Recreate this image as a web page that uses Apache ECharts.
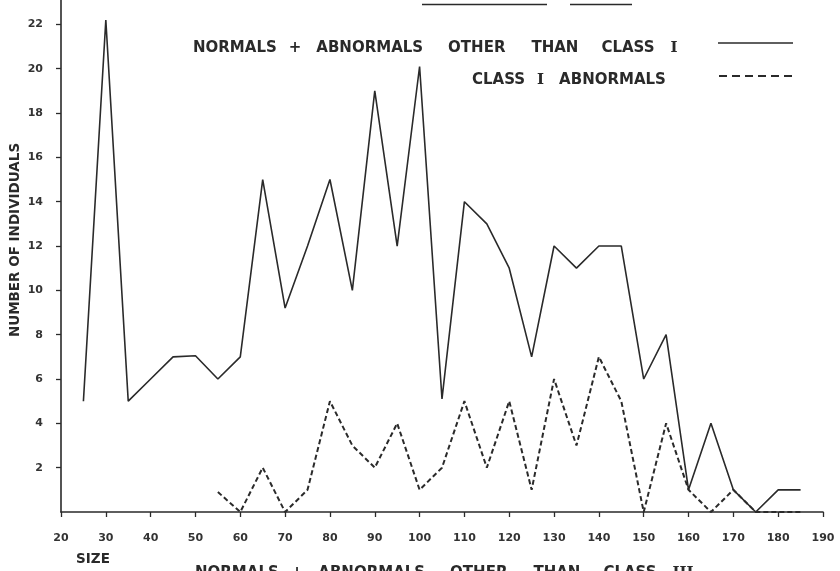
<!DOCTYPE html>
<html>
<head>
<meta charset="utf-8">
<script src="https://cdn.jsdelivr.net/npm/echarts@6/dist/echarts.min.js"></script>
<style>
  html, body { margin: 0; padding: 0; background: #ffffff; }
  #chart { width: 840px; height: 571px; }
</style>
</head>
<body>
<div id="chart"></div>
<script>
// Size classes (x) and counts of individuals (y)
const sizesAll = [25, 30, 35, 40, 45, 50, 55, 60, 65, 70, 75, 80, 85, 90, 95, 100, 105,
                  110, 115, 120, 125, 130, 135, 140, 145, 150, 155, 160, 165, 170, 175, 180, 185];
const normalsOther = [5, 22.2, 5, 6, 7, 7.05, 6, 7, 15, 9.2, 12, 15, 10, 19, 12, 20.1, 5.1,
                      14, 13, 11, 7, 12, 11, 12, 12, 6, 8, 1, 4, 1, 0, 1, 1];

const sizesClassI = [55, 60, 65, 70, 75, 80, 85, 90, 95, 100, 105, 110, 115, 120, 125,
                     130, 135, 140, 145, 150, 155, 160, 165, 170, 175, 180, 185];
const classIAbnormals = [0.9, 0, 2, 0, 1, 5, 3, 2, 4, 1, 2, 5, 2, 5, 1,
                         6, 3, 7, 5, 0, 4, 1, 0, 1, 0, 0, 0];

const yTickValues = [2, 4, 6, 8, 10, 12, 14, 16, 18, 20, 22];

const NAME_A = 'NORMALS + ABNORMALS OTHER THAN CLASS I';
const NAME_B = 'CLASS I ABNORMALS';
const CAPTION = 'NORMALS + ABNORMALS OTHER THAN CLASS III';

const INK = '#2a2a2a';
const FONT = 'DejaVu Sans';
const LETTER_SIZE = 15;

const SOLID_STYLE = { color: INK, width: 1.6 };
const DASH_STYLE = { color: INK, width: 2, type: [5, 3] };

function pairs(xs, ys) {
  return xs.map((x, i) => [x, ys[i]]);
}

// Lettering with wide word spacing; roman numerals set in a serif face.
function lettering(text, gaps) {
  const words = text.split(' ');
  const rich = {
    r: { fontFamily: 'DejaVu Serif', fontWeight: 'bold', fontSize: LETTER_SIZE, fill: INK }
  };
  let out = '';
  words.forEach((w, i) => {
    out += /^I+$/.test(w) ? '{r|' + w + '}' : w;
    if (i < words.length - 1) {
      const key = 'g' + i;
      rich[key] = { width: gaps[i], fontSize: LETTER_SIZE };
      out += '{' + key + '| }';
    }
  });
  return { text: out, rich: rich };
}

function letterText(x, y, text, gaps, vAlign) {
  const t = lettering(text, gaps);
  return {
    type: 'text', x: x, y: y,
    style: {
      text: t.text, rich: t.rich,
      fontFamily: FONT, fontSize: LETTER_SIZE, fontWeight: 'bold', fill: INK,
      verticalAlign: vAlign || 'middle'
    }
  };
}

const GAPS_A = [12, 15, 25, 26, 23, 16];
const GAPS_B = [12, 15];

const chart = echarts.init(document.getElementById('chart'), null, { renderer: 'canvas' });

chart.setOption({
  animation: false,
  backgroundColor: '#ffffff',
  grid: { left: 61, right: 17, top: 0, bottom: 59, containLabel: false, outerBoundsMode: 'none' },
  legend: { show: false },
  xAxis: {
    type: 'value',
    min: 20,
    max: 190,
    interval: 10,
    axisLine: { show: true, onZero: false, lineStyle: { color: INK, width: 1.6 } },
    axisTick: { show: true, length: 5, lineStyle: { color: INK, width: 1.3 } },
    axisLabel: { margin: 21, fontFamily: FONT, fontSize: 11, fontWeight: 'bold', color: '#333' },
    splitLine: { show: false }
  },
  yAxis: {
    type: 'value',
    min: 0,
    max: 23.1,
    axisLine: { show: true, onZero: false, lineStyle: { color: INK, width: 1.6 } },
    axisTick: { show: true, length: 5, customValues: yTickValues, lineStyle: { color: INK, width: 1.3 } },
    axisLabel: { customValues: yTickValues, margin: 18, fontFamily: FONT, fontSize: 11, fontWeight: 'bold', color: '#333' },
    splitLine: { show: false }
  },
  series: [
    {
      name: NAME_A,
      type: 'line',
      symbol: 'none',
      data: pairs(sizesAll, normalsOther),
      lineStyle: SOLID_STYLE,
      itemStyle: { color: INK },
      z: 2
    },
    {
      name: NAME_B,
      type: 'line',
      symbol: 'none',
      data: pairs(sizesClassI, classIAbnormals),
      lineStyle: DASH_STYLE,
      itemStyle: { color: INK },
      z: 3
    }
  ],
  graphic: [
    // heading at the top edge (underlined)
    {
      type: 'text', x: 422, y: 3,
      style: { text: 'STATISTICS', fontFamily: FONT, fontSize: 13.5, fontWeight: 'bold', fill: INK, verticalAlign: 'bottom' }
    },
    { type: 'line', shape: { x1: 422, y1: 4.5, x2: 547, y2: 4.5 }, style: { stroke: INK, lineWidth: 1.3 } },
    {
      type: 'text', x: 570, y: 3,
      style: { text: 'FIG. 5', fontFamily: FONT, fontSize: 13.5, fontWeight: 'bold', fill: INK, verticalAlign: 'bottom' }
    },
    { type: 'line', shape: { x1: 570, y1: 4.5, x2: 632, y2: 4.5 }, style: { stroke: INK, lineWidth: 1.3 } },

    // key: series names with line samples
    letterText(193, 48, NAME_A, GAPS_A),
    { type: 'line', shape: { x1: 718, y1: 43, x2: 793, y2: 43 }, style: { stroke: INK, lineWidth: 1.5 } },
    letterText(472, 80, NAME_B, GAPS_B),
    { type: 'line', shape: { x1: 719, y1: 76, x2: 796, y2: 76 }, style: { stroke: INK, lineWidth: 1.8, lineDash: [8, 5] } },

    // vertical axis title
    {
      type: 'text', x: 15, y: 240, rotation: Math.PI / 2,
      style: { text: 'NUMBER OF INDIVIDUALS', fontFamily: FONT, fontSize: 13.5, fontWeight: 'bold', fill: INK, align: 'center', verticalAlign: 'middle' }
    },
    // horizontal axis title
    {
      type: 'text', x: 93, y: 559,
      style: { text: 'SIZE', fontFamily: FONT, fontSize: 13.5, fontWeight: 'bold', fill: INK, align: 'center', verticalAlign: 'middle' }
    },
    // caption running off the bottom edge
    letterText(195, 566, CAPTION, GAPS_A, 'top')
  ]
});
</script>
</body>
</html>
